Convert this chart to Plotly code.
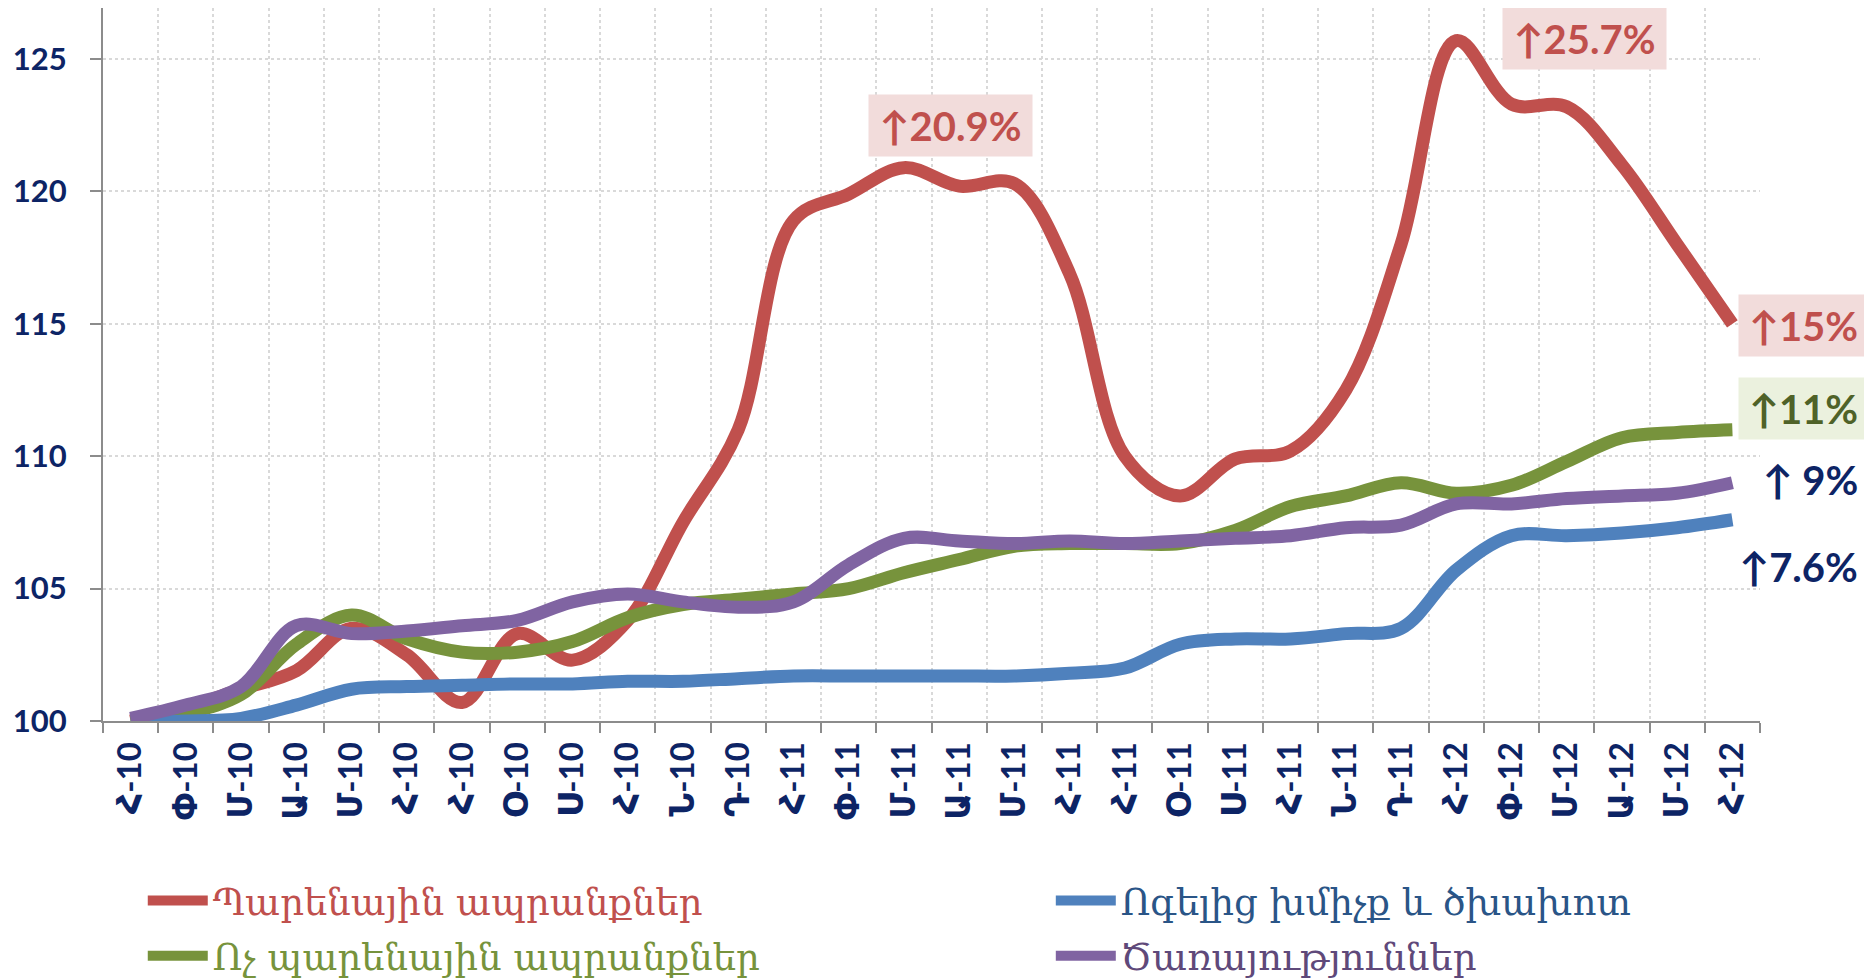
import plotly.graph_objects as go

months = ["Հ-10", "Փ-10", "Մ-10", "Ա-10", "Մ-10", "Հ-10", "Հ-10", "Օ-10", "Ս-10", "Հ-10", "Ն-10", "Դ-10",
          "Հ-11", "Փ-11", "Մ-11", "Ա-11", "Մ-11", "Հ-11", "Հ-11", "Օ-11", "Ս-11", "Հ-11", "Ն-11", "Դ-11",
          "Հ-12", "Փ-12", "Մ-12", "Ա-12", "Մ-12", "Հ-12"]

food = [100.0, 100.5, 101.2, 101.9, 103.5, 102.5, 100.7, 103.3, 102.3, 103.8, 107.5, 111.0,
        118.9, 119.9, 120.9, 120.2, 120.3, 116.9, 110.0, 108.5, 109.9, 110.2, 112.5, 118.0,
        125.7, 123.3, 123.2, 121.0, 118.0, 115.0]
nonfood = [100.0, 100.3, 101.0, 102.9, 104.0, 103.1, 102.6, 102.6, 103.0, 103.9, 104.4, 104.6,
           104.8, 105.0, 105.6, 106.1, 106.6, 106.7, 106.7, 106.7, 107.2, 108.1, 108.5, 109.0,
           108.6, 108.9, 109.8, 110.7, 110.9, 111.0]
alcohol = [100.0, 100.0, 100.1, 100.6, 101.2, 101.3, 101.35, 101.4, 101.4, 101.5, 101.5, 101.6,
           101.7, 101.7, 101.7, 101.7, 101.7, 101.8, 102.0, 102.9, 103.1, 103.1, 103.3, 103.5,
           105.7, 107.0, 107.0, 107.1, 107.3, 107.6]
services = [100.1, 100.6, 101.3, 103.6, 103.3, 103.4, 103.6, 103.8, 104.5, 104.8, 104.5, 104.3,
            104.5, 105.9, 106.9, 106.8, 106.7, 106.8, 106.7, 106.8, 106.9, 107.0, 107.3, 107.4,
            108.2, 108.2, 108.4, 108.5, 108.6, 109.0]

series_names = ["Պարենային ապրանքներ", "Ոչ պարենային ապրանքներ",
                "Ոգելից խմիչք և ծխախոտ", "Ծառայություններ"]
line_colors = ["#C0504D", "#77933C", "#4F81BD", "#8064A2"]
text_colors = ["#C0504D", "#77933C", "#2A5587", "#5F497A"]
legend_ids = ["legend", "legend", "legend2", "legend2"]

# annotation labels: (text, x-index, y-value, font colour, background, box width)
labels = [
    ("↑20.9%", 14.85, 122.48, "#C0504D", "#F2DCDB", 163),
    ("↑25.7%", 26.32, 125.77, "#C0504D", "#F2DCDB", 163),
    ("↑15%", 30.28, 114.92, "#C0504D", "#F2DCDB", 129),
    ("↑11%", 30.28, 111.81, "#4F6228", "#EBF1DE", 129),
    ("↑ 9%", 30.41, 109.11, "#0D2465", None, 129),
    ("↑7.6%", 30.2, 105.82, "#0D2465", None, 129),
]

n = len(months)
x = list(range(n))
fig = go.Figure()
for i, (vals, name, lc, tc, lg) in enumerate(zip([food, nonfood, alcohol, services], series_names,
                                                 line_colors, text_colors, legend_ids)):
    fig.add_trace(go.Scatter(
        x=x, y=vals, mode="lines",
        name=f'<span style="color:{tc}">{name}</span>',
        line=dict(color=lc, width=13, shape="spline", smoothing=1.0),
        legend=lg, legendgroup=f"g{i}",
    ))

for txt, xi, yv, fc, bg, w in labels:
    fig.add_annotation(
        x=(xi + 0.5) / n, y=yv, xref="paper", yref="y", text=txt, showarrow=False,
        xanchor="center", yanchor="middle",
        font=dict(family="Lato, DejaVu Sans", size=40, color=fc, weight="bold"),
        bgcolor=bg if bg else "rgba(0,0,0,0)", borderpad=0, width=w, height=61,
    )

tick_font = dict(family="Lato, DejaVu Sans", size=31, color="#0D2465", weight="bold")
xtick_font = dict(family="Lato, DejaVu Sans", size=33, color="#0D2465", weight="bold")
legend_common = dict(
    orientation="v", xanchor="left", yanchor="top",
    font=dict(family="DejaVu Serif", size=37),
    itemwidth=60, tracegroupgap=4, bgcolor="rgba(0,0,0,0)",
)

fig.update_layout(
    width=1864, height=972,
    margin=dict(l=95, r=112, t=0, b=259, autoexpand=False),
    plot_bgcolor="white", paper_bgcolor="white",
    showlegend=True,
    legend=dict(x=0.024, y=-0.209, **legend_common),
    legend2=dict(x=0.572, y=-0.209, **legend_common),
    xaxis=dict(
        range=[-0.5, n - 0.5], tickmode="array", tickvals=x, ticktext=months,
        tickangle=-90, tickfont=xtick_font, ticks="", showgrid=False, zeroline=False,
        ticklabelstandoff=6,
        showline=True, linecolor="#8C8C8C", linewidth=2, automargin=False,
        minor=dict(tick0=-0.5, dtick=1, ticks="outside", ticklen=10, tickcolor="#8C8C8C",
                   tickwidth=2, showgrid=True, gridcolor="#D9D9D9", griddash="dot", gridwidth=1.5),
    ),
    yaxis=dict(
        range=[100, 126.93], tick0=100, dtick=5, tickfont=tick_font,
        ticks="outside", ticklen=11, tickcolor="#8C8C8C", tickwidth=2, ticklabelstandoff=17,
        showgrid=True, gridcolor="#D9D9D9", griddash="dot", gridwidth=1.5,
        zeroline=False, showline=True, linecolor="#8C8C8C", linewidth=2, automargin=False,
    ),
)

fig.write_html("out.html")
